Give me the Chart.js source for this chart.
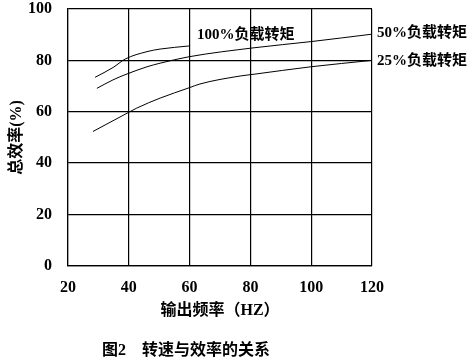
<!DOCTYPE html>
<html>
<head>
<meta charset="utf-8">
<script src="https://cdn.jsdelivr.net/npm/chart.js@4"></script>
<style>
  html, body { margin: 0; padding: 0; background: #fff; }
  #wrap { width: 474px; height: 364px; }
</style>
</head>
<body>
<div id="wrap"><canvas id="chart"></canvas></div>
<script>
// values (frequency Hz -> overall efficiency %)
const freq100 = [28.9, 34.8, 38.8, 46.0, 50.3, 59.8];
const eff100  = [73.4, 77.2, 80.5, 83.4, 84.4, 85.6];

const freq50 = [29.5, 34.8, 39.4, 46.0, 50.3, 59.8, 81.2, 99.9, 120];
const eff50  = [69.1, 72.4, 74.7, 77.5, 78.9, 81.4, 84.9, 87.3, 90.2];

const freq25 = [28.2, 39.4, 42.6, 50.3, 59.8, 63.4, 76.6, 81.2, 99.9, 120];
const eff25  = [52.3, 59.4, 61.4, 65.3, 69.3, 70.8, 73.9, 74.6, 77.5, 80.0];

const seriesNames = ['100%负载转矩', '50%负载转矩', '25%负载转矩'];
const xTicks = [20, 40, 60, 80, 100, 120];
const yTicks = [0, 20, 40, 60, 80, 100];

function pts(xs, ys) {
  return xs.map((x, i) => ({ x, y: ys[i] }));
}

Chart.defaults.font.family = '"Liberation Serif", "Noto Sans CJK SC", serif';
Chart.defaults.font.size = 16;
Chart.defaults.font.weight = 'bold';
Chart.defaults.color = '#000';

// curve names written next to the lines
const curveLabels = {
  id: 'curveLabels',
  afterDatasetsDraw(chart) {
    const { ctx, scales: { x, y } } = chart;
    ctx.save();
    ctx.font = 'bold 15px "Liberation Serif", "Noto Sans CJK SC", serif';
    ctx.fillStyle = '#000';
    ctx.textBaseline = 'middle';
    ctx.textAlign = 'left';
    ctx.fillText(seriesNames[0], x.getPixelForValue(62.4), y.getPixelForValue(89.9));
    const last50 = chart.getDatasetMeta(1).data.at(-1);
    const last25 = chart.getDatasetMeta(2).data.at(-1);
    ctx.fillText(seriesNames[1], last50.x + 5, last50.y - 1);
    ctx.fillText(seriesNames[2], last25.x + 5, last25.y + 1);
    ctx.restore();
  }
};

const lineStyle = {
  borderColor: '#000',
  borderWidth: 1,
  pointRadius: 0,
  fill: false,
  tension: 0.4,
  cubicInterpolationMode: 'monotone'
};

new Chart(document.getElementById('chart'), {
  type: 'line',
  data: {
    datasets: [
      { label: seriesNames[0], data: pts(freq100, eff100), ...lineStyle },
      { label: seriesNames[1], data: pts(freq50, eff50), ...lineStyle },
      { label: seriesNames[2], data: pts(freq25, eff25), ...lineStyle }
    ]
  },
  options: {
    responsive: true,
    maintainAspectRatio: false,
    animation: false,
    layout: { padding: { left: 0, right: 102, top: 9, bottom: 0 } },
    plugins: {
      legend: { display: false },
      tooltip: { enabled: false },
      title: {
        display: true,
        position: 'bottom',
        text: '图2    转速与效率的关系',
        padding: { top: 18, bottom: 4 },
        font: { size: 16, weight: 'bold' }
      }
    },
    scales: {
      x: {
        type: 'linear',
        min: 20,
        max: 120,
        afterBuildTicks: s => { s.ticks = xTicks.map(v => ({ value: v })); },
        afterFit: s => { s.height = 57; },
        ticks: { padding: 12, maxRotation: 0 },
        grid: { color: '#000', lineWidth: 1.2, drawTicks: false },
        border: { color: '#000', width: 1.2 },
        title: { display: true, text: '输出频率（HZ）', padding: { top: 4, bottom: 2 } }
      },
      y: {
        min: 0,
        max: 100,
        afterBuildTicks: s => { s.ticks = yTicks.map(v => ({ value: v })); },
        afterFit: s => { s.width = 68; s.paddingTop = 0; s.paddingBottom = 0; },
        ticks: { padding: 16 },
        grid: { color: '#000', lineWidth: 1.2, drawTicks: false },
        border: { color: '#000', width: 1.2 },
        title: { display: true, text: '总效率(%)', padding: { top: 7, bottom: 6 } }
      }
    }
  },
  plugins: [curveLabels]
});
</script>
</body>
</html>
